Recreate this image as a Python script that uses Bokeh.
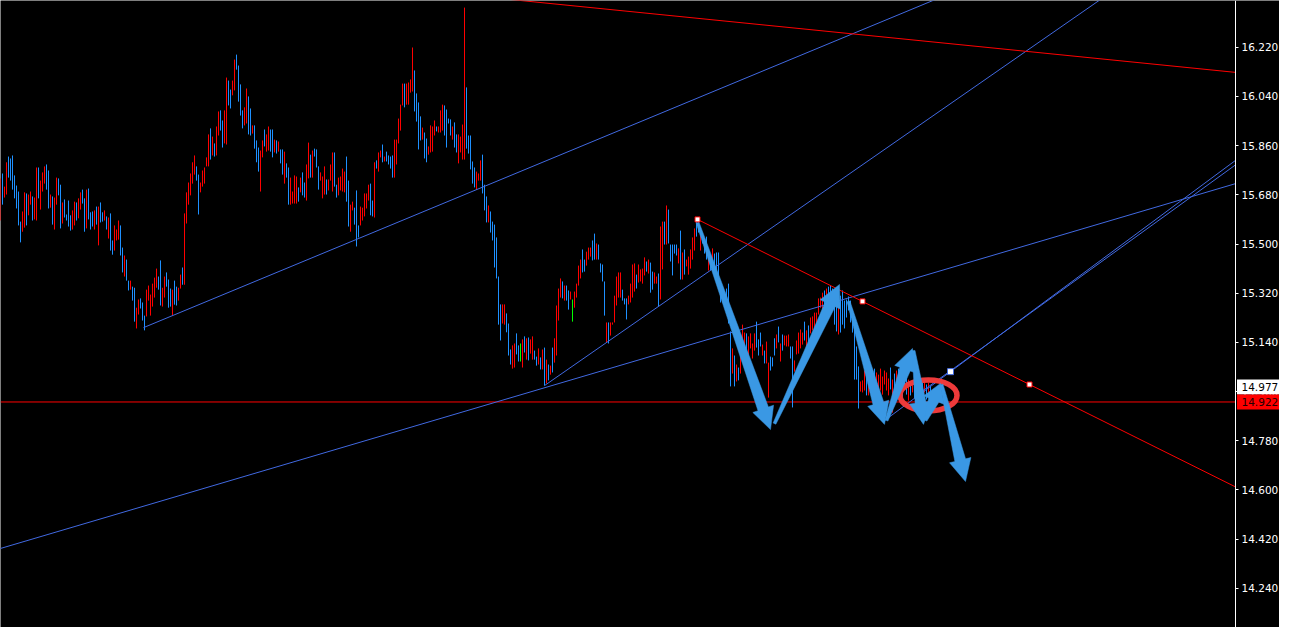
import math
from bokeh.plotting import figure
from bokeh.models import Range1d, FixedTicker, PrintfTickFormatter
from bokeh.core.properties import value
from bokeh.embed import file_html
from bokeh.resources import INLINE

# ---------------- data ----------------
highs = [
    15.740, 15.758, 15.710, 15.799, 15.820, 15.813, 15.824, 15.751, 15.714, 15.692,
    15.582, 15.619, 15.689, 15.685, 15.681, 15.692, 15.674, 15.670, 15.780, 15.780,
    15.732, 15.762, 15.784, 15.791, 15.769, 15.681, 15.674, 15.670, 15.743, 15.740,
    15.717, 15.652, 15.663, 15.608, 15.659, 15.605, 15.623, 15.655, 15.652, 15.667,
    15.689, 15.699, 15.667, 15.699, 15.703, 15.616, 15.619, 15.623, 15.637, 15.637,
    15.652, 15.616, 15.623, 15.601, 15.597, 15.612, 15.513, 15.568, 15.553, 15.586,
    15.568, 15.487, 15.458, 15.443, 15.366, 15.366, 15.344, 15.340, 15.267, 15.297,
    15.301, 15.286, 15.238, 15.333, 15.348, 15.315, 15.355, 15.377, 15.410, 15.381,
    15.440, 15.340, 15.381, 15.396, 15.370, 15.337, 15.333, 15.366, 15.344, 15.340,
    15.388, 15.414, 15.612, 15.689, 15.725, 15.758, 15.799, 15.824, 15.784, 15.754,
    15.725, 15.769, 15.780, 15.817, 15.901, 15.923, 15.893, 15.868, 15.930, 15.985,
    15.989, 15.952, 15.989, 16.109, 16.098, 16.065, 16.098, 16.175, 16.193, 16.153,
    16.084, 15.989, 16.000, 16.069, 16.040, 15.996, 15.934, 15.934, 15.879, 15.853,
    15.842, 15.879, 15.919, 15.901, 15.930, 15.919, 15.919, 15.882, 15.879, 15.875,
    15.846, 15.846, 15.838, 15.795, 15.780, 15.743, 15.692, 15.751, 15.747, 15.707,
    15.743, 15.762, 15.725, 15.791, 15.871, 15.827, 15.842, 15.849, 15.846, 15.784,
    15.762, 15.747, 15.784, 15.736, 15.736, 15.791, 15.835, 15.835, 15.717, 15.743,
    15.747, 15.776, 15.765, 15.820, 15.732, 15.644, 15.655, 15.633, 15.696, 15.568,
    15.637, 15.633, 15.685, 15.685, 15.717, 15.721, 15.659, 15.799, 15.806, 15.835,
    15.842, 15.864, 15.820, 15.838, 15.824, 15.820, 15.824, 15.882, 15.882, 15.959,
    16.010, 16.087, 16.087, 16.087, 16.091, 16.102, 16.219, 16.135, 16.051, 16.018,
    15.967, 15.926, 15.908, 15.886, 15.857, 15.934, 15.930, 15.952, 15.930, 15.930,
    15.989, 16.010, 16.007, 15.992, 15.959, 15.956, 15.930, 15.945, 15.901, 15.901,
    15.893, 15.937, 16.365, 16.073, 15.897, 15.897, 15.802, 15.780, 15.765, 15.758,
    15.806, 15.827, 15.717, 15.674, 15.641, 15.619, 15.582, 15.571, 15.524, 15.381,
    15.279, 15.279, 15.279, 15.246, 15.209, 15.114, 15.129, 15.136, 15.173, 15.129,
    15.136, 15.151, 15.162, 15.155, 15.158, 15.151, 15.162, 15.110, 15.088, 15.118,
    15.085, 15.114, 15.121, 15.077, 15.059, 15.055, 15.121, 15.155, 15.275, 15.337,
    15.374, 15.363, 15.348, 15.348, 15.330, 15.326, 15.297, 15.326, 15.355, 15.421,
    15.443, 15.480, 15.443, 15.472, 15.487, 15.487, 15.513, 15.538, 15.502, 15.498,
    15.429, 15.425, 15.363, 15.213, 15.213, 15.213, 15.213, 15.311, 15.381, 15.396,
    15.396, 15.333, 15.301, 15.301, 15.311, 15.355, 15.425, 15.429, 15.388, 15.425,
    15.407, 15.410, 15.451, 15.436, 15.443, 15.432, 15.399, 15.396, 15.381, 15.392,
    15.564, 15.582, 15.582, 15.641, 15.626, 15.498, 15.498, 15.498, 15.498, 15.484,
    15.549, 15.469, 15.480, 15.443, 15.454, 15.480, 15.524, 15.557, 15.586, 15.590,
    15.542, 15.531, 15.520, 15.527, 15.469, 15.440, 15.484, 15.465, 15.469, 15.469,
    15.340, 15.319, 15.326, 15.337, 15.355, 15.180, 15.118, 15.092, 15.059, 15.048,
    15.096, 15.205, 15.176, 15.173, 15.162, 15.173, 15.136, 15.173, 15.216, 15.151,
    15.176, 15.132, 15.110, 15.143, 15.066, 15.088, 15.085, 15.155, 15.169, 15.198,
    15.136, 15.169, 15.165, 15.165, 15.169, 15.125, 15.125, 15.074, 15.147, 15.176,
    15.187, 15.176, 15.216, 15.184, 15.202, 15.231, 15.235, 15.249, 15.249, 15.301,
    15.304, 15.322, 15.330, 15.337, 15.344, 15.348, 15.337, 15.301, 15.275, 15.301,
    15.311, 15.330, 15.293, 15.297, 15.308, 15.293, 15.260, 15.191, 15.125, 15.052,
    14.997, 15.001, 15.037, 15.019, 15.004, 15.030, 15.015, 15.044, 15.030, 15.022,
    15.044, 15.015, 15.037, 15.030, 15.008, 15.048, 15.004, 15.026, 15.037, 15.044,
    15.004, 15.055, 15.022, 15.030, 15.004, 14.993, 15.001, 14.986, 15.001, 14.990,
    15.008, 14.993, 15.001, 14.986, 14.993, 14.982,
]

lows = [
    15.586, 15.644, 15.670, 15.681, 15.743, 15.732, 15.699, 15.667, 15.630, 15.568,
    15.506, 15.545, 15.560, 15.568, 15.605, 15.644, 15.586, 15.590, 15.586, 15.667,
    15.626, 15.692, 15.721, 15.699, 15.630, 15.633, 15.571, 15.553, 15.644, 15.678,
    15.557, 15.575, 15.597, 15.586, 15.564, 15.549, 15.553, 15.568, 15.586, 15.594,
    15.626, 15.648, 15.545, 15.557, 15.590, 15.553, 15.564, 15.553, 15.571, 15.495,
    15.579, 15.582, 15.586, 15.553, 15.520, 15.476, 15.461, 15.476, 15.513, 15.516,
    15.458, 15.396, 15.381, 15.366, 15.330, 15.333, 15.293, 15.216, 15.191, 15.242,
    15.264, 15.220, 15.184, 15.235, 15.293, 15.238, 15.271, 15.304, 15.340, 15.333,
    15.275, 15.271, 15.304, 15.344, 15.267, 15.271, 15.238, 15.278, 15.275, 15.293,
    15.337, 15.351, 15.351, 15.575, 15.644, 15.678, 15.721, 15.754, 15.732, 15.608,
    15.689, 15.710, 15.721, 15.784, 15.784, 15.809, 15.824, 15.820, 15.824, 15.897,
    15.915, 15.853, 15.868, 15.864, 16.007, 15.996, 16.044, 16.062, 16.138, 16.021,
    15.970, 15.923, 15.934, 15.941, 15.901, 15.897, 15.904, 15.849, 15.799, 15.765,
    15.692, 15.817, 15.857, 15.838, 15.842, 15.838, 15.817, 15.835, 15.831, 15.838,
    15.795, 15.754, 15.721, 15.743, 15.644, 15.644, 15.648, 15.648, 15.648, 15.655,
    15.689, 15.678, 15.670, 15.659, 15.740, 15.743, 15.743, 15.820, 15.780, 15.699,
    15.732, 15.667, 15.681, 15.681, 15.696, 15.732, 15.692, 15.710, 15.670, 15.678,
    15.696, 15.692, 15.689, 15.655, 15.564, 15.545, 15.623, 15.571, 15.491, 15.524,
    15.568, 15.586, 15.601, 15.630, 15.659, 15.605, 15.601, 15.597, 15.776, 15.765,
    15.817, 15.799, 15.802, 15.802, 15.791, 15.776, 15.743, 15.743, 15.791, 15.868,
    15.915, 16.007, 16.000, 16.010, 16.010, 16.054, 16.058, 15.985, 15.948, 15.846,
    15.879, 15.882, 15.813, 15.799, 15.827, 15.835, 15.838, 15.897, 15.912, 15.908,
    15.908, 15.915, 15.897, 15.853, 15.941, 15.897, 15.882, 15.853, 15.835, 15.795,
    15.835, 15.809, 15.809, 15.849, 15.831, 15.773, 15.721, 15.707, 15.699, 15.732,
    15.732, 15.685, 15.623, 15.579, 15.579, 15.542, 15.513, 15.414, 15.374, 15.205,
    15.147, 15.209, 15.205, 15.177, 15.092, 15.059, 15.044, 15.048, 15.096, 15.070,
    15.070, 15.048, 15.103, 15.077, 15.074, 15.099, 15.077, 15.077, 15.055, 15.059,
    15.041, 15.041, 14.982, 14.990, 15.001, 15.022, 15.030, 15.066, 15.092, 15.220,
    15.304, 15.301, 15.293, 15.293, 15.260, 15.297, 15.216, 15.267, 15.304, 15.348,
    15.374, 15.396, 15.399, 15.421, 15.443, 15.454, 15.440, 15.443, 15.443, 15.443,
    15.396, 15.363, 15.238, 15.140, 15.136, 15.165, 15.205, 15.213, 15.275, 15.304,
    15.304, 15.293, 15.279, 15.224, 15.279, 15.286, 15.304, 15.326, 15.337, 15.359,
    15.363, 15.355, 15.385, 15.399, 15.392, 15.322, 15.333, 15.355, 15.355, 15.271,
    15.297, 15.407, 15.498, 15.498, 15.502, 15.436, 15.385, 15.465, 15.458, 15.429,
    15.370, 15.370, 15.388, 15.418, 15.388, 15.410, 15.443, 15.476, 15.527, 15.542,
    15.476, 15.502, 15.465, 15.443, 15.403, 15.403, 15.407, 15.421, 15.403, 15.377,
    15.286, 15.286, 15.297, 15.286, 15.209, 14.979, 15.026, 14.979, 14.997, 15.001,
    15.026, 15.074, 15.081, 15.096, 15.088, 15.118, 15.081, 15.110, 15.121, 15.092,
    15.125, 15.092, 15.063, 15.063, 14.938, 15.037, 15.052, 15.092, 15.118, 15.140,
    15.070, 15.110, 15.129, 15.125, 15.125, 15.081, 14.902, 15.033, 15.096, 15.099,
    15.118, 15.132, 15.147, 15.099, 15.114, 15.173, 15.184, 15.169, 15.155, 15.242,
    15.267, 15.260, 15.275, 15.286, 15.293, 15.293, 15.293, 15.205, 15.180, 15.169,
    15.176, 15.205, 15.191, 15.231, 15.257, 15.213, 15.176, 15.004, 15.004, 14.898,
    14.960, 14.957, 14.964, 14.946, 14.946, 14.957, 14.946, 14.971, 14.979, 14.964,
    14.964, 14.949, 14.986, 14.964, 14.946, 14.968, 14.883, 14.971, 14.979, 14.986,
    14.931, 14.935, 14.971, 14.949, 14.927, 14.946, 14.957, 14.935, 14.949, 14.938,
    14.957, 14.942, 14.957, 14.931, 14.942, 14.924,
]

# R = up bar, B = down bar, G = unchanged bar
directions = (
    "RBRRBBBBBB" "BRRBRRBRRB" "RRRBBRBRRB" "BRBBBBRRBR" "RBBRBBBRBR"
    "BBRBRBBRRR" "BBRBBRBBRR" "BBBRRRRRRB" "BRRBBBRBBR" "RBRRRRRRBB"
    "RRRRRBRBRR" "BBRRBBRRBB" "BBRRBBRBBB" "RRBRRBBRBR" "BBRBBRRRRB"
    "RBBRRBRBBB" "RRRBRRRBBR" "RRRBBRRBBB" "RRRRRBBRBR" "RBRBBBBRRR"
    "RRBRRRRBBB" "BRBBRRRRBR" "RRBBBBRBBR" "RRRBBBBBRR" "RBBBRBBBBB"
    "BRRBBBRRBB" "GRBRBRRBBR" "BRBRBRBRRR" "RBRBBRGRRR" "RBBRRRBBRB"
    "BBBRBRRRRR" "RBBBRRRRBR" "RRRBRBBRRB" "RRBRBBBBBR" "BRBRRRRRBB"
    "RBBBRBRBBB" "BBBBBBRBRB" "RRRBRRRRBB" "BRBRRBBBRB" "RBRRRBBRRR"
    "RRBRBRRRRR" "RRBRBBBBBR" "BBBBBBBBBB" "RRRBRRRBRR" "RRRRRBRBRB"
    "BBBBRBRBRB" "RBRBRB"
)

tick_values = [14.060, 14.240, 14.420, 14.600, 14.780, 14.960, 15.140,
               15.320, 15.500, 15.680, 15.860, 16.040, 16.220, 16.400]

bid_price = 14.922
line_label_price = 14.977

# trend lines: anchor bar / price pairs
trend_x0 = [71.5, 0.0, 272.0, 442.0, 460.0, 348.5, 260.0]
trend_p0 = [15.194, 14.386, 14.982, 14.854, 14.957, 15.590, 16.391]
trend_x1 = [424.0, 272.0, 370.0, 475.0, 600.0, 514.5, 617.5]
trend_p1 = [16.263, 14.974, 15.480, 15.033, 15.697, 14.986, 16.128]
trend_color = ["blue", "blue", "blue", "blue", "blue", "red", "red"]
trend_both_ways = [False, True, False, False, False, False, True]

red_anchor_x = [348.5, 431.0, 514.5]
red_anchor_p = [15.590, 15.290, 14.986]
blue_anchor_x = [475.0]
blue_anchor_p = [15.033]

# hand-drawn arrows (tail -> tip)
arrow_x0 = [348.5, 387.0, 424.0, 443.0, 456.5, 462.5, 470.5]
arrow_p0 = [15.579, 14.843, 15.290, 14.854, 15.110, 14.854, 14.986]
arrow_x1 = [385.0, 419.5, 442.0, 456.0, 461.5, 470.0, 482.5]
arrow_p1 = [14.821, 15.352, 14.840, 15.118, 14.840, 14.990, 14.631]

circle_x = [464.0]
circle_p = [14.946]

# ---------------- figure ----------------
FRAME_W, FRAME_H = 1279, 627
PX_PER_BAR = 2.0
PX_PER_PRICE = 273.3
X0 = 0.0
X1 = X0 + FRAME_W / PX_PER_BAR
AXIS_X = 617.5            # price scale sits at 1235 px
Y1 = 16.391
Y0 = Y1 - FRAME_H / PX_PER_PRICE
LABEL_FONT_SIZE = "10.5px"

p = figure(frame_width=FRAME_W, frame_height=FRAME_H,
           x_range=Range1d(X0, X1), y_range=Range1d(Y0, Y1),
           x_axis_location=None, y_axis_location="right",
           output_backend="svg", toolbar_location=None, tools="",
           min_border_left=0, min_border_top=0, min_border_bottom=0,
           min_border_right=0)
p.background_fill_color = "black"
p.border_fill_color = "black"
p.outline_line_color = None
p.grid.visible = False

ax = p.yaxis[0]
ax.fixed_location = AXIS_X
ax.ticker = FixedTicker(ticks=tick_values)
ax.formatter = PrintfTickFormatter(format="%.3f")
ax.axis_line_color = "white"
ax.major_tick_line_color = "white"
ax.major_tick_in = 0
ax.major_tick_out = 3
ax.minor_tick_line_color = None
ax.major_label_text_color = "white"
ax.major_label_text_font = "DejaVu Sans"
ax.major_label_text_font_size = LABEL_FONT_SIZE
ax.major_label_standoff = 3

# bid line (up to the price scale)
p.segment(x0=[X0], y0=[bid_price], x1=[AXIS_X], y1=[bid_price],
          line_color="#ff0000", line_width=1)

# bars
col_map = {"R": "#ff0000", "B": "#1e90ff", "G": "#00ff00"}
xs = list(range(len(highs)))
cols = [col_map[c] for c in directions]
p.segment(x0=xs, y0=lows, x1=xs, y1=highs, line_color=cols, line_width=1)

# trend lines (clipped at the price scale)
for xa, pa, xb, pb, c, both in zip(trend_x0, trend_p0, trend_x1, trend_p1,
                                   trend_color, trend_both_ways):
    slope = (pb - pa) / (xb - xa)
    x_end = AXIS_X
    x_start = -50.0 if both else xa
    color = "#4169e1" if c == "blue" else "#ff0000"
    p.line([x_start, x_end], [pa + slope * (x_start - xa), pa + slope * (x_end - xa)],
           line_color=color, line_width=1)

# ellipse
p.ellipse(x=circle_x, y=circle_p, width=57, height=31, width_units="screen",
          height_units="screen", fill_color=None, line_color="#ee3a3a", line_width=5.5)

# arrows
sx = PX_PER_BAR
sy = PX_PER_PRICE
axs, ays = [], []
for xa, pa, xb, pb in zip(arrow_x0, arrow_p0, arrow_x1, arrow_p1):
    ax0, ay0, ax1, ay1 = xa * sx, pa * sy, xb * sx, pb * sy
    dx, dy = ax1 - ax0, ay1 - ay0
    L = math.hypot(dx, dy)
    ux, uy = dx / L, dy / L
    nx, ny = -uy, ux
    hl = min(22.0, 0.45 * L)
    hw, bw, tw = 11.0, 5.5, 1.5
    bx, by = ax1 - ux * hl, ay1 - uy * hl
    pts = [(ax0 + nx * tw, ay0 + ny * tw), (bx + nx * bw, by + ny * bw),
           (bx + nx * hw, by + ny * hw), (ax1, ay1),
           (bx - nx * hw, by - ny * hw), (bx - nx * bw, by - ny * bw),
           (ax0 - nx * tw, ay0 - ny * tw)]
    axs.append([q[0] / sx for q in pts])
    ays.append([q[1] / sy for q in pts])
p.patches(axs, ays, fill_color="#3a98e4", line_color="#3a98e4", line_width=0.5)

# anchor markers
p.scatter(red_anchor_x, red_anchor_p, marker="square", size=5,
          fill_color="white", line_color="#ff0000", line_width=1)
p.scatter(blue_anchor_x, blue_anchor_p, marker="square", size=6,
          fill_color="white", line_color="#4169e1", line_width=1)

# price boxes on the price scale
box_prices = [line_label_price, bid_price]
box_fill = ["white", "#ff0000"]
box_text_color = ["black", "#220000"]
box_text = ["%.3f" % v for v in box_prices]
p.rect(x=[AXIS_X + 14.25] * 2, y=box_prices, width=54, height=15,
       width_units="screen", height_units="screen",
       fill_color=box_fill, line_color=None, level="overlay")
p.text(x=[AXIS_X + 3.0] * 2, y=box_prices, text=box_text, text_color=box_text_color,
       text_font_size=value(LABEL_FONT_SIZE), text_font=value("DejaVu Sans"),
       text_baseline="middle", text_align="left", level="overlay")

open("out.html", "w").write(file_html(p, INLINE))
